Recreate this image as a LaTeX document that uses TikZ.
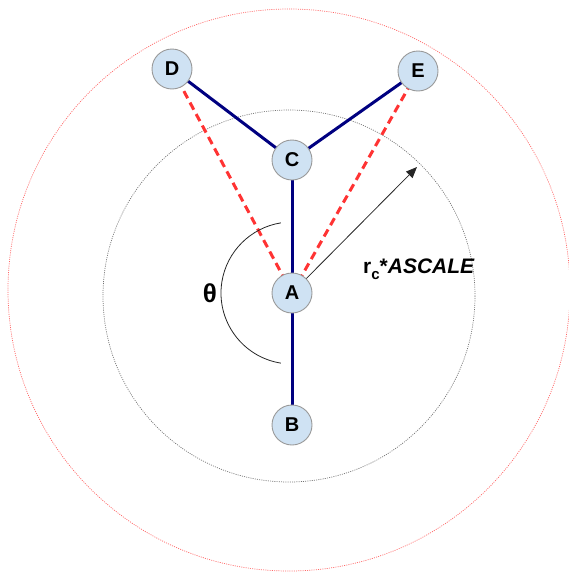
\documentclass[tikz,border=0pt]{standalone}
\usepackage{fontspec}
\setmainfont{Liberation Sans}
\usetikzlibrary{arrows.meta}
\begin{document}
\begin{tikzpicture}[x=1pt,y=-1pt,
  vtx/.style={circle,draw=black!40,line width=0.9pt,fill=blueFill,minimum size=40pt,inner sep=0pt,font=\fontsize{20}{20}\selectfont\bfseries},
  edge/.style={draw=navyE,line width=3pt},
  redd/.style={draw=redD,line width=3pt,dash pattern=on 8pt off 5pt},
  ring/.style={line width=0.7pt,dash pattern=on 1pt off 1.2pt}]
\definecolor{blueFill}{HTML}{CFE2F3}
\definecolor{navyE}{HTML}{000080}
\definecolor{redD}{HTML}{FF3333}
\useasboundingbox (0,0) rectangle (569,573);
\coordinate (oc) at (289,290);
\coordinate (ic) at (289,296);
\draw[ring,draw=red!60] (oc) circle[radius=281];
\draw[ring,draw=black!55] (ic) circle[radius=186];
\coordinate (tip) at (417,167);
\path (292,293) coordinate (pA) (292,425) coordinate (pB) (292,160) coordinate (pC) (172,69) coordinate (pD) (418,71) coordinate (pE);
\draw[edge] (pA) -- (pB);
\draw[edge] (pA) -- (pC);
\draw[edge] (pC) -- (pD);
\draw[edge] (pC) -- (pE);
\draw[redd] (pA) -- (pD);
\draw[redd] (pA) -- (pE);
\draw[black!85,line width=0.8pt] ([shift={(99:71)}]pA) arc[start angle=99,end angle=261,radius=71];
\node[vtx] (A) at (pA) {A};
\node[vtx] (B) at (pB) {B};
\node[vtx] (C) at (pC) {C};
\node[vtx] (D) at (pD) {D};
\node[vtx] (E) at (pE) {E};
\draw[black!85,line width=0.8pt,-{Triangle[length=11pt,width=9pt]}] (A) -- (tip);
\node[font=\fontsize{26}{26}\selectfont\bfseries] (theta) at (210,293) {θ};
\node[font=\fontsize{21}{21}\selectfont\bfseries,anchor=base west,inner sep=0pt] (lbl) at (363,273) {r\raisebox{-6pt}{\fontsize{15}{15}\selectfont c}*\itshape ASCALE};
\end{tikzpicture}
\end{document}
